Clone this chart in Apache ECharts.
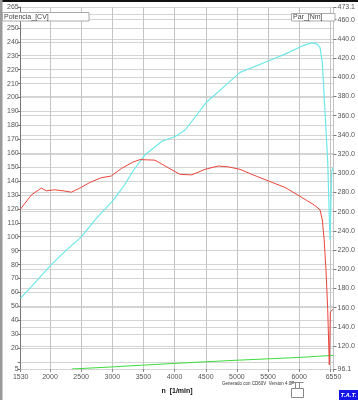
<!DOCTYPE html>
<html>
<head>
<meta charset="utf-8">
<script src="https://cdn.jsdelivr.net/npm/echarts@6/dist/echarts.min.js"></script>
<style>
html,body{margin:0;padding:0;background:#fff;}
#chart{width:358px;height:400px;}
</style>
</head>
<body>
<div id="chart"></div>
<script>
// X axis (rpm) ticks and labels
const xTicks = [1530, 2000, 2500, 3000, 3500, 4000, 4500, 5000, 5500, 6000, 6500, 6550];
const xLabels = [1530, 2000, 2500, 3000, 3500, 4000, 4500, 5000, 5500, 6000, 6550];
// Left axis (Potencia CV)
const leftTicks = [5, 10, 20, 30, 40, 50, 60, 70, 80, 90, 100, 110, 120, 130, 140, 150, 160, 170, 180, 190, 200, 210, 220, 230, 240, 250, 260, 265];
const leftLabels = [5, 20, 30, 40, 50, 60, 70, 80, 90, 100, 110, 120, 130, 140, 150, 160, 170, 180, 190, 200, 210, 220, 230, 240, 250, 265];
// Right axis (Par Nm)
const rightTicks = [96.1, 120, 140, 160, 180, 200, 220, 240, 260, 280, 300, 320, 340, 360, 380, 400, 420, 440, 460, 473.1];

// Potencia [CV]
const powerRpm = [1530, 1700, 1861, 1941, 2076, 2209, 2342, 2477, 2637, 2824, 2984, 3145, 3332, 3443, 3684, 3899, 4087, 4274, 4488, 4701, 4862, 5050, 5238, 5504, 5772, 6040, 6253, 6334, 6371, 6400, 6430, 6457, 6483, 6500, 6545];
const powerCV  = [120, 130, 134.9, 133, 133.7, 133, 132, 134.9, 138.9, 142.4, 143.6, 149, 153.6, 155.4, 155, 149.5, 144.8, 144.4, 148.4, 150.8, 150.2, 148.4, 144.8, 140.1, 135.4, 128.3, 122.4, 119.3, 112, 98, 76, 48, 8, 46, 48];

// Par [Nm]
const torqueRpm = [1530, 1760, 1995, 2236, 2503, 2743, 3011, 3204, 3332, 3525, 3793, 4010, 4170, 4515, 4811, 5050, 5504, 5772, 6040, 6200, 6290, 6334, 6371, 6414, 6457, 6494, 6521, 6545];
const torqueNm  = [170, 186, 203, 218.3, 233.7, 253, 271.4, 288.5, 302.3, 319.3, 333.1, 338.2, 345, 374.2, 391.2, 405, 416.9, 424, 432.3, 435.8, 434.5, 430.7, 415.2, 364, 312.8, 230.6, 302, 306];

// Green trace
const greenRpm = [2348, 3000, 3500, 4000, 4500, 5000, 5500, 6000, 6545];
const greenVal = [5, 6.5, 7.8, 9.0, 10.2, 11.3, 12.3, 13.3, 14.8];

function pairs(xs, ys) { return xs.map((x, i) => [x, ys[i]]); }

const labelStyle = { color: '#555', fontSize: 7, fontFamily: 'Liberation Sans, Arial, sans-serif' };
const gridLine = { show: true, lineStyle: { color: '#d4d4d4', width: 1 } };

const chart = echarts.init(document.getElementById('chart'), null, { renderer: 'canvas' });
chart.setOption({
  animation: false,
  backgroundColor: '#fff',
  grid: { left: 20.7, right: 24.4, top: 7, bottom: 26, containLabel: false },
  xAxis: {
    type: 'value', min: 1530, max: 6550,
    axisLine: { show: false },
    axisTick: { show: true, length: 3, customValues: xTicks, lineStyle: { color: '#888' } },
    axisLabel: Object.assign({ customValues: xLabels, margin: 5, formatter: v => String(v) }, labelStyle),
    splitLine: { show: true, lineStyle: { color: '#c4c4c4', width: 1 } },
    name: 'n  [1/min]', nameLocation: 'middle', nameGap: 19,
    nameTextStyle: { fontSize: 7, fontWeight: 'bold', color: '#111', fontFamily: 'Liberation Sans, Arial, sans-serif' }
  },
  yAxis: [
    {
      type: 'value', min: 5, max: 265, position: 'left',
      axisLine: { show: true, lineStyle: { color: '#777', width: 1 } },
      axisTick: { show: true, length: 3, inside: false, customValues: leftTicks, lineStyle: { color: '#777' } },
      axisLabel: Object.assign({ customValues: leftLabels, margin: 2, formatter: v => String(v) }, labelStyle),
      splitLine: gridLine
    },
    {
      type: 'value', min: 96.1, max: 473.1, position: 'right',
      axisLine: { show: false },
      axisTick: { show: true, length: 3, customValues: rightTicks, lineStyle: { color: '#777' } },
      axisLabel: Object.assign({ customValues: rightTicks, margin: 4, formatter: v => v.toFixed(1) }, labelStyle),
      splitLine: gridLine
    }
  ],
  series: [
    {
      name: 'Verde', type: 'line', yAxisIndex: 0, data: pairs(greenRpm, greenVal),
      showSymbol: false, lineStyle: { color: '#3ddc3d', width: 1 }, z: 3
    },
    {
      name: 'Par_[Nm]', type: 'line', yAxisIndex: 1, data: pairs(torqueRpm, torqueNm),
      showSymbol: false, lineStyle: { color: '#6ee8e8', width: 1.2 }, z: 4
    },
    {
      name: 'Potencia_[CV]', type: 'line', yAxisIndex: 0, data: pairs(powerRpm, powerCV),
      showSymbol: false, lineStyle: { color: '#e8463c', width: 1 }, z: 5
    }
  ],
  graphic: [
    { type: 'rect', shape: { x: 0, y: 0, width: 358, height: 2 }, style: { fill: '#111' }, silent: true },
    { type: 'rect', shape: { x: 0, y: 0, width: 2.5, height: 400 }, style: { fill: '#9a9a9a' }, silent: true },
    { type: 'rect', shape: { x: 2.5, y: 12.5, width: 86.5, height: 8.5 }, style: { fill: '#fff', stroke: '#aaa', lineWidth: 1 }, z: 10 },
    { type: 'text', x: 4, y: 16.8, style: { text: 'Potencia_[CV]', fontSize: 7, fill: '#444', fontFamily: 'Liberation Sans, Arial, sans-serif', verticalAlign: 'middle' }, z: 11 },
    { type: 'rect', shape: { x: 291.5, y: 13.5, width: 43.5, height: 7.5 }, style: { fill: '#fff', stroke: '#aaa', lineWidth: 1 }, z: 10 },
    { type: 'text', x: 293, y: 17.3, style: { text: 'Par_[Nm]', fontSize: 7, fill: '#444', fontFamily: 'Liberation Sans, Arial, sans-serif', verticalAlign: 'middle' }, z: 11 },
    { type: 'text', x: 222, y: 384, style: { text: 'Generado con CD60V  Version 4.0P', fontSize: 4.5, fill: '#333', fontFamily: 'Liberation Sans, Arial, sans-serif', verticalAlign: 'middle' } },
    { type: 'polyline', shape: { points: [[291.5, 382.5], [303.5, 382.5]] }, style: { stroke: '#888', lineWidth: 1 } },
    { type: 'polyline', shape: { points: [[295.5, 382.5], [295.5, 388.5]] }, style: { stroke: '#888', lineWidth: 1 } },
    { type: 'polyline', shape: { points: [[299.5, 382.5], [299.5, 388.5]] }, style: { stroke: '#888', lineWidth: 1 } },
    { type: 'rect', shape: { x: 291.5, y: 388.5, width: 12, height: 9 }, style: { fill: 'none', stroke: '#888', lineWidth: 1 } },
    { type: 'rect', shape: { x: 339, y: 390, width: 19, height: 10 }, style: { fill: '#1414e6' } },
    { type: 'text', x: 348.5, y: 395, style: { text: 'T.A.T.', fontSize: 6, fill: '#fff', fontWeight: 'bold', fontStyle: 'italic', fontFamily: 'Liberation Sans, Arial, sans-serif', align: 'center', verticalAlign: 'middle' } }
  ]
});
</script>
</body>
</html>
